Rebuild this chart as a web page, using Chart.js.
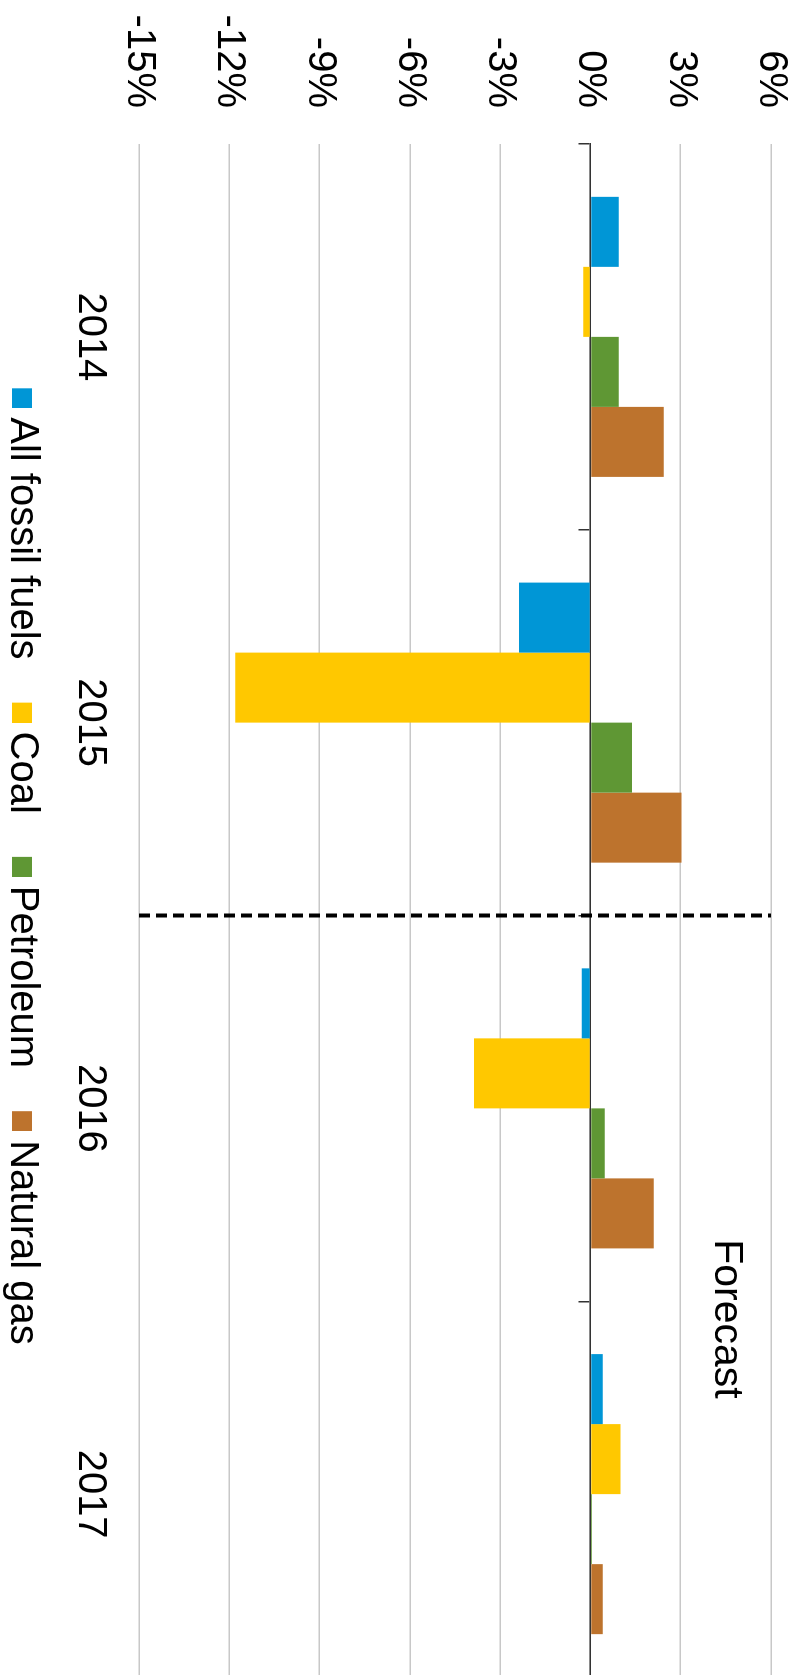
<!DOCTYPE html>
<html>
<head>
<meta charset="utf-8">
<script src="https://cdn.jsdelivr.net/npm/chart.js@4.4.1/dist/chart.umd.min.js"></script>
<style>
  html, body { margin: 0; padding: 0; background: #fff; overflow: hidden; }
  /* chart is drawn landscape, then turned a quarter clockwise */
  #wrap { position: absolute; left: 0; top: 0; width: 1690px; height: 801px;
          transform-origin: 0 0; transform: translate(801px, 0) rotate(90deg); }
</style>
</head>
<body>
<div id="wrap"><canvas id="fuelChart" width="1690" height="801"></canvas></div>
<script>
var years = ['2014', '2015', '2016', '2017'];
var allFossil = [0.94, -2.37, -0.29, 0.41];
var coal = [-0.24, -11.8, -3.87, 1.0];
var petroleum = [0.94, 1.38, 0.48, 0.05];
var naturalGas = [2.44, 3.03, 2.1, 0.41];
var valueTicks = [-15, -12, -9, -6, -3, 0, 3, 6];

var FONT = 'Liberation Sans';

// legend square sitting at the right end of a wider transparent strip,
// so the gap to the text stays small while items keep their spacing
function swatch(color) {
    var c = document.createElement('canvas');
    c.width = 62;
    c.height = 20;
    var g = c.getContext('2d');
    g.fillStyle = color;
    g.fillRect(42, 0, 20, 20);
    return c;
}

var forecastLine = {
    id: 'forecastLine',
    afterDatasetsDraw: function (chart) {
        var x = chart.scales.x, y = chart.scales.y, ctx = chart.ctx;
        var px = x.getPixelForValue(1.5);
        ctx.save();
        ctx.strokeStyle = '#000';
        ctx.lineWidth = 4;
        ctx.setLineDash([11, 6]);
        ctx.beginPath();
        ctx.moveTo(px, y.getPixelForValue(valueTicks[0]));
        ctx.lineTo(px, y.getPixelForValue(valueTicks[valueTicks.length - 1]));
        ctx.stroke();
        ctx.setLineDash([]);
        ctx.fillStyle = '#000';
        ctx.font = '41px "' + FONT + '"';
        ctx.textAlign = 'left';
        ctx.textBaseline = 'alphabetic';
        ctx.fillText('Forecast', x.getPixelForValue(2.5) - 62, y.getPixelForValue(4.15));
        ctx.restore();
    }
};

var cntxt = document.getElementById('fuelChart');

var myChart = new Chart(cntxt, {
    type: 'bar',
    data: {
        labels: years,
        datasets: [
            { label: 'All fossil fuels', data: allFossil, backgroundColor: '#0096d6', pointStyle: swatch('#0096d6') },
            { label: 'Coal', data: coal, backgroundColor: '#ffc800', pointStyle: swatch('#ffc800') },
            { label: 'Petroleum', data: petroleum, backgroundColor: '#5f9734', pointStyle: swatch('#5f9734') },
            { label: 'Natural gas', data: naturalGas, backgroundColor: '#bd732d', pointStyle: swatch('#bd732d') }
        ]
    },
    options: {
        responsive: false,
        animation: false,
        devicePixelRatio: 1,
        categoryPercentage: 0.726,
        barPercentage: 1.0,
        layout: { padding: { left: 15, right: 3, top: 30, bottom: 0 } },
        plugins: {
            tooltip: { enabled: false },
            legend: {
                position: 'bottom',
                maxHeight: 54,
                labels: {
                    usePointStyle: true,
                    boxWidth: 40,
                    padding: 12,
                    color: '#000',
                    font: { family: FONT, size: 40 }
                }
            }
        },
        scales: {
            x: {
                type: 'category',
                grid: { display: false },
                border: { display: false },
                ticks: {
                    color: '#000',
                    padding: 17,
                    maxRotation: 0,
                    font: { family: FONT, size: 40 }
                },
                afterFit: function (scale) { scale.height = 85; }
            },
            x2: {
                type: 'category',
                axis: 'x',
                position: { y: 0 },
                offset: true,
                z: 1,
                grid: {
                    offset: true,
                    drawOnChartArea: false,
                    drawTicks: true,
                    tickLength: 11,
                    color: '#333',
                    lineWidth: 1.5
                },
                border: { display: true, color: '#333', width: 1.5 },
                ticks: { display: false }
            },
            y: {
                min: valueTicks[0],
                max: valueTicks[valueTicks.length - 1],
                border: { display: false },
                grid: {
                    drawTicks: false,
                    color: '#c8c8c8',
                    lineWidth: 1.5
                },
                ticks: {
                    stepSize: 3,
                    padding: 36,
                    color: '#000',
                    font: { family: FONT, size: 40 },
                    callback: function (v) { return v + '%'; }
                },
                afterFit: function (scale) {
                    scale.width = 129;
                    scale.paddingTop = 0;
                    scale.paddingBottom = 0;
                }
            }
        }
    },
    plugins: [forecastLine]
});
</script>
</body>
</html>
